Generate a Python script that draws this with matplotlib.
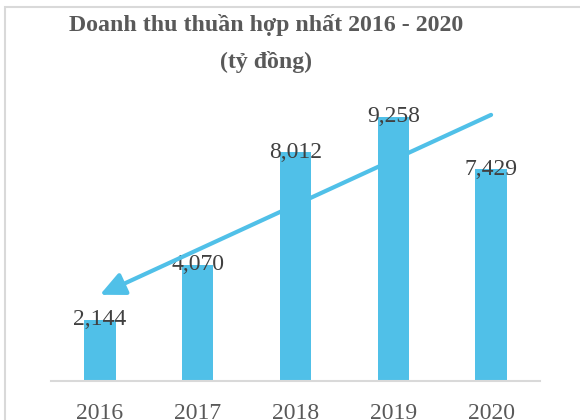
import matplotlib.pyplot as plt
from matplotlib.patches import Rectangle

years = ['2016', '2017', '2018', '2019', '2020']
revenue = [2144, 4070, 8012, 9258, 7429]
value_labels = ['2,144', '4,070', '8,012', '9,258', '7,429']

bar_color = '#50C0E8'

plt.rcParams['font.family'] = ['Liberation Serif', 'DejaVu Serif']

fig = plt.figure(figsize=(5.8, 4.2), dpi=100)
ax = fig.add_axes([0.088, 0.093, 0.843, 0.679])

x = range(len(years))
ax.bar(x, revenue, width=0.32, color=bar_color, zorder=2)

for i, v in enumerate(revenue):
    ax.text(i, v, value_labels[i], ha='center', va='center',
            fontsize=17, color='#404040', zorder=3)

# mui ten xu huong
ax.annotate('', xy=(0.0, 3020), xytext=(4.0, 9330),
            arrowprops=dict(arrowstyle='-|>,head_length=0.6,head_width=0.28',
                            lw=3, color=bar_color, mutation_scale=25,
                            shrinkA=0, shrinkB=0),
            zorder=4)

ax.set_xlim(-0.5, 4.5)
ax.set_ylim(0, 10000)
ax.set_xticks(list(x))
ax.set_xticklabels(years, fontsize=17, color='#595959')
ax.tick_params(axis='x', length=0, pad=16)
ax.set_yticks([])
for s in ['top', 'right', 'left']:
    ax.spines[s].set_visible(False)
ax.spines['bottom'].set_color('#D9D9D9')
ax.spines['bottom'].set_linewidth(1.5)

fig.text(266 / 580, 1 - 25 / 420, 'Doanh thu thuần hợp nhất 2016 - 2020',
         ha='center', va='center', fontsize=17.2, fontweight='bold', color='#595959')
fig.text(266 / 580, 1 - 62 / 420, '(tỷ đồng)',
         ha='center', va='center', fontsize=17.2, fontweight='bold', color='#595959')

# khung vien
fig.patches.append(Rectangle((5 / 580, -0.1), 1.2, 1.1 - 7.5 / 420,
                             transform=fig.transFigure, fill=False,
                             edgecolor='#D9D9D9', lw=1.5))

fig.savefig('out.png', dpi=100)
